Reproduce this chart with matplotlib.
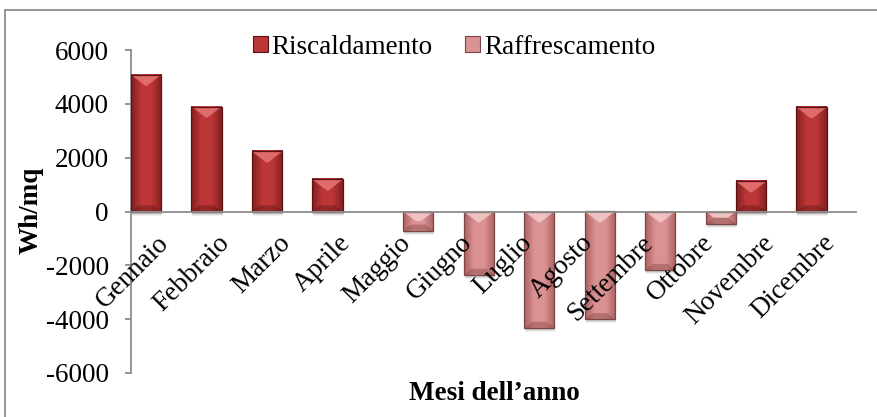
import numpy as np
import matplotlib
matplotlib.use('Agg')
from matplotlib import pyplot as plt
from matplotlib.patches import Rectangle, Polygon, Patch
from matplotlib.colors import LinearSegmentedColormap

plt.rcParams['font.family'] = ['Liberation Serif', 'DejaVu Serif']

mesi = ['Gennaio', 'Febbraio', 'Marzo', 'Aprile', 'Maggio', 'Giugno',
        'Luglio', 'Agosto', 'Settembre', 'Ottobre', 'Novembre', 'Dicembre']
riscaldamento   = [5080, 3900, 2230, 1190, 0, 0, 0, 0, 0, 0, 1120, 3870]
raffrescamento  = [0, 0, 0, 0, -710, -2350, -4320, -4000, -2170, -460, 0, 0]
yticks = [-6000, -4000, -2000, 0, 2000, 4000, 6000]

W, H = 878, 417
fig = plt.figure(figsize=(W / 100, H / 100), dpi=100)
ax = fig.add_axes([131 / W, (H - 373) / H, (857 - 131) / W, (373 - 50) / H])
ax.set_xlim(-0.5, 11.5)
ax.set_ylim(-6000, 6000)

grey = '#8c8c8c'
fs = 19.5
px_y = 12000 / 323.0   # data units per pixel (vertical)
px_x = 12 / 726.0      # data units per pixel (horizontal)

styles = {
    'r': dict(edge='#84201f', mid='#bd3637', top='#e77576', bot='#5e1416', line='#5a1214'),
    'f': dict(edge='#ad6262', mid='#da9292', top='#f5caca', bot='#8a4a4a', line='#7a4646'),
}


def draw_bar(x0, x1, v, st):
    if v == 0:
        return
    y_top, y_bot = (v, 0) if v > 0 else (0, v)
    h = y_top - y_bot
    # soft shadow
    for k, a in [(4, 0.08), (3, 0.10), (2, 0.12)]:
        ax.add_patch(Rectangle((x0 + 1 * px_x, y_bot - k * px_y), x1 - x0, h,
                               color='#404040', alpha=a, lw=0, zorder=2))
    cmap = LinearSegmentedColormap.from_list('g', [st['edge'], st['mid'], st['mid'], st['edge']])
    grad = np.linspace(0, 1, 64).reshape(1, -1)
    ax.imshow(grad, cmap=cmap, extent=(x0, x1, y_bot, y_top), aspect='auto',
              interpolation='bilinear', zorder=3)
    half = (x1 - x0) / 2
    d = min(11 * px_y, h / 2)
    inset = min(half, d / px_y * px_x * 1.3)
    ax.add_patch(Polygon([(x0, y_top), (x1, y_top), (x1 - inset, y_top - d), (x0 + inset, y_top - d)],
                         closed=True, color=st['top'], alpha=0.85, lw=0, zorder=4))
    db = min(6 * px_y, h / 2)
    ax.add_patch(Polygon([(x0, y_bot), (x1, y_bot), (x1 - inset * db / d, y_bot + db), (x0 + inset * db / d, y_bot + db)],
                         closed=True, color=st['bot'], alpha=0.45, lw=0, zorder=4))
    ax.add_patch(Rectangle((x0, y_bot), x1 - x0, h, fill=False, edgecolor=st['line'], lw=0.9, zorder=5))


x = np.arange(len(mesi))
for i in x:
    draw_bar(i - 0.5, i, riscaldamento[i], styles['r'])
    draw_bar(i, i + 0.5, raffrescamento[i], styles['f'])

ax.axhline(0, color=grey, lw=1.3, zorder=6)

for s in ['top', 'right', 'bottom']:
    ax.spines[s].set_visible(False)
ax.spines['left'].set_color(grey)
ax.spines['left'].set_linewidth(1.3)
ax.set_xticks([])
ax.set_yticks(yticks)
ax.set_yticklabels([str(t) for t in yticks])
ax.tick_params(axis='y', direction='out', length=4, color=grey, width=1.3, pad=12, labelsize=fs)

for i, m in enumerate(mesi):
    ax.annotate(m, xy=(i, 0), xytext=(3, -20), textcoords='offset points',
                rotation=45, rotation_mode='anchor', ha='right', va='center',
                fontsize=fs, zorder=7)

fig.text(31 / W, 1 - 210 / H, 'Wh/mq', rotation=90, ha='center', va='center',
         fontsize=fs, fontweight='bold')
fig.text(494 / W, 1 - 393 / H, 'Mesi dell\u2019anno', ha='center', va='center',
         fontsize=fs, fontweight='bold')

handles = [Patch(facecolor=styles['r']['mid'], edgecolor=styles['r']['line'], lw=0.8),
           Patch(facecolor=styles['f']['mid'], edgecolor=styles['f']['line'], lw=0.8)]
fig.legend(handles, ['Riscaldamento', 'Raffrescamento'], ncol=2, frameon=False,
           loc='center', bbox_to_anchor=(454 / W, 1 - 47 / H), fontsize=fs,
           handlelength=0.55, handleheight=0.55, handletextpad=0.15, columnspacing=1.2)

fig.add_artist(Rectangle((5.5 / W, -0.1), 1.2, (H - 10) / H + 0.1, transform=fig.transFigure,
                         fill=False, edgecolor='#8c8c8c', lw=1.3))

fig.savefig('out.png', dpi=100)
